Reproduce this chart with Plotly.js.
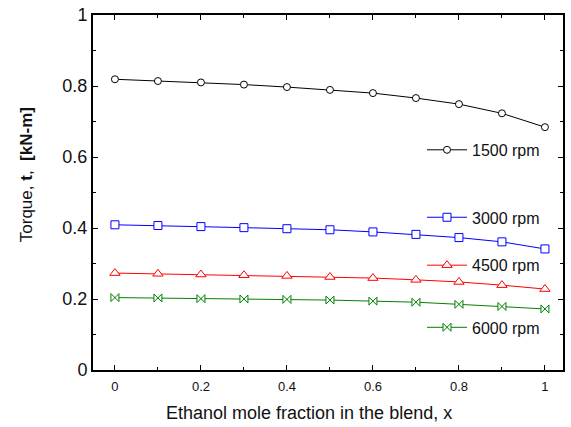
<!DOCTYPE html>
<html>
<head>
<meta charset="utf-8">
<script src="https://cdn.plot.ly/plotly-3.0.1.min.js"></script>
<style>html,body{margin:0;padding:0;background:#fff;}#chart{width:571px;height:427px;}</style>
</head>
<body>
<div id="chart"></div>
<script>
var x = [0, 0.1, 0.2, 0.3, 0.4, 0.5, 0.6, 0.7, 0.8, 0.9, 1.0];
var rpm1500 = [0.819, 0.814, 0.810, 0.804, 0.797, 0.789, 0.780, 0.766, 0.749, 0.723, 0.684];
var rpm3000 = [0.409, 0.407, 0.404, 0.401, 0.398, 0.395, 0.389, 0.382, 0.373, 0.361, 0.341];
var rpm4500 = [0.273, 0.271, 0.269, 0.267, 0.265, 0.262, 0.259, 0.254, 0.248, 0.239, 0.228];
var rpm6000 = [0.204, 0.203, 0.201, 0.200, 0.199, 0.197, 0.194, 0.191, 0.185, 0.179, 0.172];
var seriesNames = ['1500 rpm', '3000 rpm', '4500 rpm', '6000 rpm'];
var xTicks = [0, 0.2, 0.4, 0.6, 0.8, 1];
var xTickText = ['0', '0.2', '0.4', '0.6', '0.8', '1'];
var yTicks = [0, 0.2, 0.4, 0.6, 0.8, 1];
var yTickText = ['0', '0.2', '0.4', '0.6', '0.8', '1'];

function mk(y, name, color, symbol, size, legendId) {
  return {
    x: x, y: y, name: name, type: 'scatter', mode: 'lines+markers',
    line: {color: color, width: 1},
    marker: {symbol: symbol, size: size, color: 'white', line: {color: color, width: 1}},
    legend: legendId
  };
}
var data = [
  mk(rpm1500, seriesNames[0], 'black', 'circle', 7, 'legend'),
  mk(rpm3000, seriesNames[1], 'rgb(0,0,255)', 'square', 8, 'legend2'),
  mk(rpm4500, seriesNames[2], 'rgb(255,0,0)', 'triangle-up', 9, 'legend3'),
  mk(rpm6000, seriesNames[3], 'rgb(0,128,0)', 'bowtie', 8, 'legend4')
];
function lg(yv) {
  return {x: 0.7, y: yv, xanchor: 'left', yanchor: 'middle', bgcolor: 'rgba(0,0,0,0)', borderwidth: 0,
    font: {family: 'Liberation Sans, Arial, sans-serif', size: 16, color: '#111'}, itemwidth: 40};
}
var layout = {
  width: 571, height: 427,
  margin: {l: 93, r: 8, t: 15, b: 57},
  paper_bgcolor: 'white', plot_bgcolor: 'white',
  font: {family: 'Liberation Sans, Arial, sans-serif', color: '#111'},
  xaxis: {
    range: [-0.051, 1.042], tickvals: xTicks, ticktext: xTickText,
    ticks: 'inside', ticklen: 5, tickwidth: 1, tickcolor: '#000',
    minor: {dtick: 0.1, ticks: 'inside', ticklen: 3, tickwidth: 1, tickcolor: '#000', showgrid: false},
    showline: true, linecolor: '#000', linewidth: 2, mirror: 'allticks',
    showgrid: false, zeroline: false, ticklabelstandoff: 3,
    tickfont: {size: 13, color: '#111'}
  },
  yaxis: {
    range: [0, 1.0], tickvals: yTicks, ticktext: yTickText,
    ticks: 'inside', ticklen: 5, tickwidth: 1, tickcolor: '#000',
    minor: {dtick: 0.1, ticks: 'inside', ticklen: 3, tickwidth: 1, tickcolor: '#000', showgrid: false},
    showline: true, linecolor: '#000', linewidth: 2, mirror: 'allticks',
    showgrid: false, zeroline: false,
    tickfont: {size: 18, color: '#111'}
  },
  showlegend: true,
  legend: lg(0.62),
  legend2: lg(0.43),
  legend3: lg(0.295),
  legend4: lg(0.12),
  annotations: [
    {text: 'Ethanol mole fraction in the blend, x', xref: 'paper', yref: 'paper',
     x: (309 - 93) / 470, y: -(413 - 370) / 355, xanchor: 'center', yanchor: 'middle', showarrow: false,
     font: {size: 18, color: '#111'}},
    {text: 'Torque, <b>t</b>,  <b>[kN-m]</b>', xref: 'paper', yref: 'paper', textangle: -90,
     x: -0.14, y: (370 - 175) / 355, xanchor: 'center', yanchor: 'middle', showarrow: false,
     font: {size: 17, color: '#111'}}
  ]
};
Plotly.newPlot('chart', data, layout, {displayModeBar: false, staticPlot: true});
</script>
</body>
</html>
